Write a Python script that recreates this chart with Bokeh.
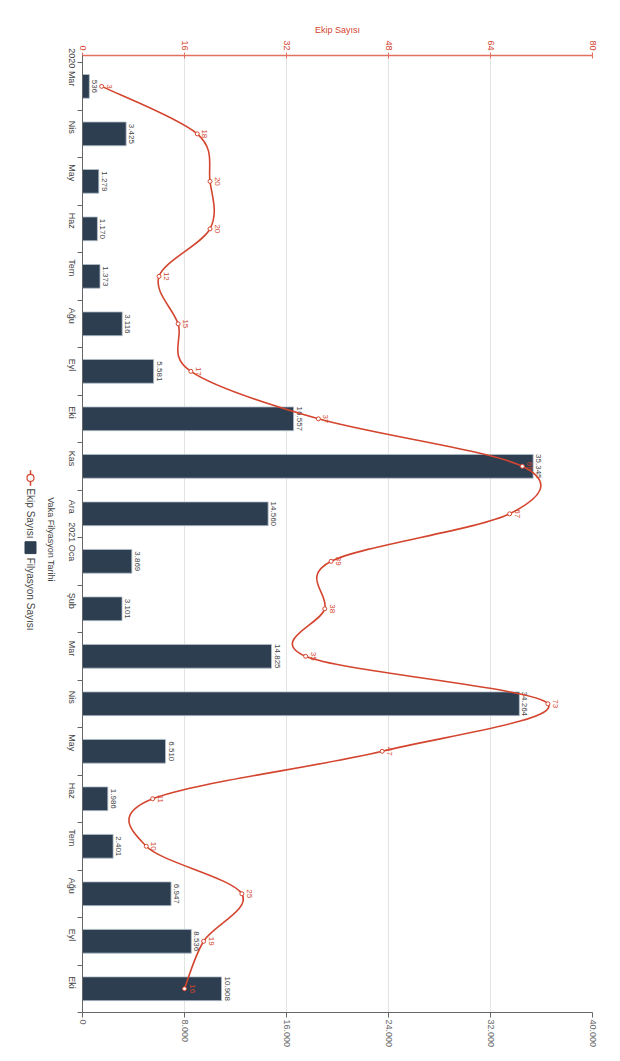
import math
import numpy as np
from bokeh.plotting import figure
from bokeh.layouts import row
from bokeh.models import Range1d, LinearAxis, FixedTicker, ColumnDataSource
from bokeh.embed import file_html
from bokeh.resources import INLINE
from bokeh.core.properties import value

# ---------------- data ----------------
categories = ["2020 Mar", "Nis", "May", "Haz", "Tem", "Ağu", "Eyl", "Eki", "Kas", "Ara",
              "2021 Oca", "Şub", "Mar", "Nis", "May", "Haz", "Tem", "Ağu", "Eyl", "Eki"]
filyasyon = [536, 3425, 1279, 1170, 1373, 3116, 5581, 16557, 35345, 14560,
             3869, 3101, 14825, 34264, 6510, 1986, 2401, 6947, 8536, 10908]
ekip = [3, 18, 20, 20, 12, 15, 17, 37, 69, 67,
        39, 38, 35, 73, 47, 11, 10, 25, 19, 16]
bottom_ticks = [0, 8000, 16000, 24000, 32000, 40000]
bottom_tick_labels = ["0", "8.000", "16.000", "24.000", "32.000", "40.000"]
top_ticks = [0, 16, 32, 48, 64, 80]
series_names = ["Ekip Sayısı", "Filyasyon Sayısı"]
axis_title = "Vaka Filyasyon Tarihi"

# ---------------- style ----------------
FONT = "Liberation Sans"
RED = "#d4452f"
RED_AXIS = "#e2725f"
BAR = "#2c3e50"
GREY = "#666666"
TXT = "#444444"
ROT = -math.pi / 2
H = 1050

idx = list(range(len(categories)))


def tr(v):
    return f"{v:,}".replace(",", ".")


src = ColumnDataSource(dict(
    y=idx, v=filyasyon, lbl=[tr(v) for v in filyasyon],
    e=ekip, elbl=[str(v) for v in ekip],
))

p = figure(width=554, height=H,
           x_range=Range1d(0, 40000), y_range=Range1d(19.5, -0.65),
           output_backend="svg", toolbar_location=None,
           min_border_left=22, min_border_right=20,
           min_border_top=55, min_border_bottom=38,
           background_fill_color="white", border_fill_color="white",
           outline_line_color=None)
p.extra_x_ranges = {"ekip": Range1d(0, 80)}

# bottom axis
xa = p.xaxis[0]
xa.ticker = FixedTicker(ticks=bottom_ticks)
xa.major_label_overrides = {t: l for t, l in zip(bottom_ticks, bottom_tick_labels)}
xa.major_label_orientation = ROT
xa.major_label_text_font = FONT
xa.major_label_text_font_size = "9px"
xa.major_label_text_color = GREY
xa.major_label_standoff = 2
xa.axis_line_color = GREY
xa.major_tick_line_color = GREY
xa.major_tick_out = 5
xa.major_tick_in = 0
xa.minor_tick_line_color = None

# left (category) axis
ya = p.yaxis[0]
ya.ticker = FixedTicker(ticks=idx, minor_ticks=[i - 0.5 for i in range(len(idx) + 1)])
ya.major_label_overrides = {i: c for i, c in zip(idx, categories)}
ya.major_label_orientation = ROT
ya.major_label_text_font = FONT
ya.major_label_text_font_size = "9px"
ya.major_label_text_color = TXT
ya.axis_line_color = GREY
ya.major_tick_out = 0
ya.major_tick_in = 0
ya.minor_tick_out = 5
ya.minor_tick_in = 0
ya.minor_tick_line_color = GREY
ya.major_label_standoff = 6

# top axis (Ekip Sayısı)
top = LinearAxis(x_range_name="ekip", ticker=FixedTicker(ticks=top_ticks),
                 axis_label=series_names[0])
top.major_label_orientation = ROT
top.major_label_text_font = FONT
top.major_label_text_font_size = "9px"
top.major_label_text_color = RED
top.major_label_standoff = 2
top.axis_line_color = RED_AXIS
top.axis_line_width = 1.3
top.major_tick_line_color = RED_AXIS
top.major_tick_out = 3
top.major_tick_in = 3
top.minor_tick_line_color = None
top.axis_label_text_font = FONT
top.axis_label_text_font_size = "9px"
top.axis_label_text_font_style = "normal"
top.axis_label_text_color = RED
top.axis_label_standoff = 2
p.add_layout(top, "above")

# grid
p.xgrid.ticker = FixedTicker(ticks=bottom_ticks)
p.xgrid.grid_line_color = "#e3e3e3"
p.ygrid.grid_line_color = None

# bars
p.hbar(y="y", left=0, right="v", height=0.5, source=src,
       fill_color=BAR, line_color="#b4c0cc", line_width=0.8)
p.text(x="v", y="y", text="lbl", source=src, angle=ROT,
       text_align="center", text_baseline="bottom", x_offset=3,
       text_font=value(FONT), text_font_size="8px", text_color=TXT)

# smooth line (Catmull-Rom through the data points, drawn as bezier segments)
P = np.column_stack([np.array(ekip, float), np.array(idx, float)])
Pe = np.vstack([P[0], P, P[-1]])
seg = dict(x0=[], y0=[], x1=[], y1=[], cx0=[], cy0=[], cx1=[], cy1=[])
for i in range(len(P) - 1):
    p0, p1, p2, p3 = Pe[i], Pe[i + 1], Pe[i + 2], Pe[i + 3]
    c1 = p1 + (p2 - p0) / 6.0
    c2 = p2 - (p3 - p1) / 6.0
    seg["x0"].append(p1[0]); seg["y0"].append(p1[1])
    seg["x1"].append(p2[0]); seg["y1"].append(p2[1])
    seg["cx0"].append(c1[0]); seg["cy0"].append(c1[1])
    seg["cx1"].append(c2[0]); seg["cy1"].append(c2[1])
p.bezier(source=ColumnDataSource(seg), x0="x0", y0="y0", x1="x1", y1="y1",
         cx0="cx0", cy0="cy0", cx1="cx1", cy1="cy1",
         x_range_name="ekip", line_color=RED, line_width=1.6)
p.scatter(x="e", y="y", source=src, x_range_name="ekip", size=4,
          fill_color="white", line_color=RED, line_width=1)
p.text(x="e", y="y", text="elbl", source=src, x_range_name="ekip", angle=ROT,
       text_align="center", text_baseline="bottom", x_offset=5,
       text_font=value(FONT), text_font_size="8px", text_color=RED)

# ---------------- left strip: axis title + legend (pixel layout) ----------------
LW = 58
L = figure(width=LW, height=H, x_range=Range1d(0, LW), y_range=Range1d(H, 0),
           x_axis_type=None, y_axis_type=None, min_border=0,
           output_backend="svg", toolbar_location=None,
           background_fill_color="white", border_fill_color="white",
           outline_line_color=None)
L.grid.visible = False

L.text(x=[50], y=[531], text=[axis_title], angle=ROT,
       text_align="center", text_baseline="middle",
       text_font=value(FONT), text_font_size="9px", text_color=TXT)
# legend item 1: line + circle
L.segment(x0=[30], y0=[455], x1=[30], y1=[472], line_color=RED, line_width=1.5)
L.scatter(x=[30], y=[463.5], size=7, marker="circle", fill_color="white",
          line_color=RED, line_width=1.2)
L.text(x=[30], y=[475], text=[series_names[0]], angle=ROT,
       text_align="left", text_baseline="middle",
       text_font=value(FONT), text_font_size="10px", text_color=TXT)
# legend item 2: box
L.rect(x=[30], y=[540], width=11, height=13, fill_color=BAR, line_color=BAR)
L.text(x=[30], y=[551], text=[series_names[1]], angle=ROT,
       text_align="left", text_baseline="middle",
       text_font=value(FONT), text_font_size="10px", text_color=TXT)

layout = row(L, p)
open("out.html", "w").write(file_html(layout, INLINE))
